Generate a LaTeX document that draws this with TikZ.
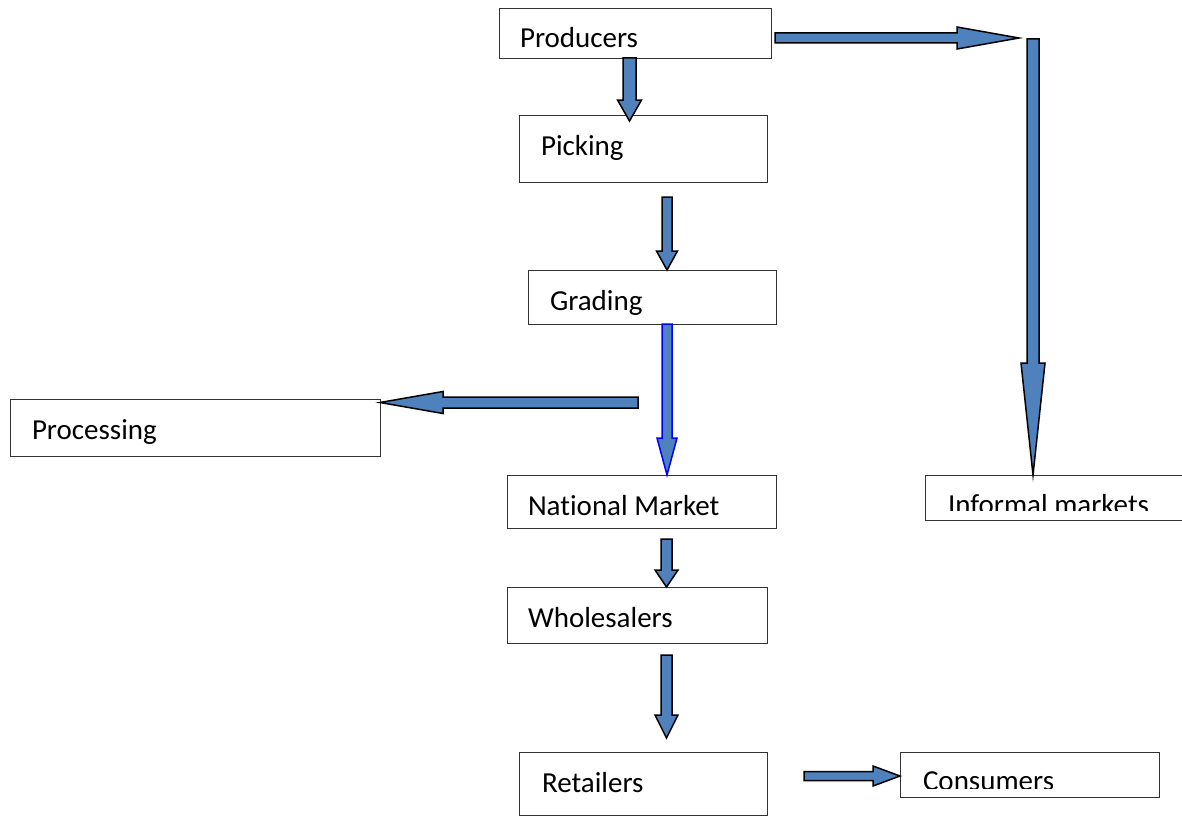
\documentclass[tikz,border=0pt]{standalone}
\usepackage{fontspec}
\setmainfont{Carlito}[Ligatures=NoCommon]
\usetikzlibrary{calc}

\definecolor{arrowfill}{HTML}{4F81BD}
\definecolor{boxline}{HTML}{333333}

% label of a box, set from the box's top-left corner
\newcommand{\boxlabel}[4]{%
  \node[lbl] (#1-text) at ([xshift=#2pt,yshift=-#3pt]#1.north west) {#4};}
% same, with the text frame cut off #4pt above the box's bottom edge
\newcommand{\boxlabelcut}[5]{%
  \begin{scope}
    \clip (#1.north west) rectangle ([yshift=#4pt]#1.south east);
    \node[lbl] (#1-text) at ([xshift=#2pt,yshift=-#3pt]#1.north west) {#5};
  \end{scope}}

% vertical block arrow: [style]{tail}{tip}{shaft half width}{head half width}{head length}
\newcommand{\varrow}[6][]{%
  \draw[blockarrow,#1] ([xshift=-#4pt]#2) -- ([xshift=-#4pt,yshift=#6pt]#3)
    -- ([xshift=-#5pt,yshift=#6pt]#3) -- (#3) -- ([xshift=#5pt,yshift=#6pt]#3)
    -- ([xshift=#4pt,yshift=#6pt]#3) -- ([xshift=#4pt]#2) -- cycle;}
% horizontal block arrow: head length is signed (negative for arrows pointing right)
\newcommand{\harrow}[6][]{%
  \draw[blockarrow,#1] ([yshift=#4pt]#2) -- ([xshift=#6pt,yshift=#4pt]#3)
    -- ([xshift=#6pt,yshift=#5pt]#3) -- (#3) -- ([xshift=#6pt,yshift=-#5pt]#3)
    -- ([xshift=#6pt,yshift=-#4pt]#3) -- ([yshift=-#4pt]#2) -- cycle;}

\tikzset{
  box/.style={draw=boxline, line width=0.9pt, inner sep=0pt, outer sep=0pt, anchor=north west},
  lbl/.style={inner sep=0pt, outer sep=0pt, anchor=base west, font=\fontsize{29}{34}\selectfont},
  blockarrow/.style={fill=arrowfill, draw=black, line width=1.5pt, line join=miter},
  bluerim/.style={draw=blue},
}

\begin{document}
\begin{tikzpicture}[x=1pt,y=-1pt]
\useasboundingbox (0,0) rectangle (1182,816);
\fill[white] (0,0) rectangle (1182,816);

% stages of the chain
\node[box, minimum width=272, minimum height=50] (prod)  at (499,8)   {};
\node[box, minimum width=248, minimum height=67] (pick)  at (519,115) {};
\node[box, minimum width=248, minimum height=54] (grad)  at (528,270) {};
\node[box, minimum width=370, minimum height=57] (proc)  at (10,399)  {};
\node[box, minimum width=269, minimum height=53] (nat)   at (507,475) {};
\node[box, minimum width=270, minimum height=45] (inf)   at (925,475) {};
\node[box, minimum width=260, minimum height=56] (whole) at (507,587) {};
\node[box, minimum width=248, minimum height=63] (ret)   at (519,752) {};
\node[box, minimum width=259, minimum height=45] (cons)  at (900,752) {};

\boxlabel{prod}{21}{40}{Producers}
\boxlabel{pick}{22}{40}{Picking}
\boxlabel{grad}{22}{40}{Grading}
\boxlabel{proc}{22}{40}{Processing}
\boxlabel{nat}{21}{40}{National Market}
\boxlabelcut{inf}{23}{39}{10}{Informal markets}
\boxlabel{whole}{21}{40}{Wholesalers}
\boxlabel{ret}{23}{40}{Retailers}
\boxlabelcut{cons}{23}{38}{9}{Consumers}

% arrow end points
\coordinate (a1) at (629.5,0 |- prod.south);
\coordinate (b1) at (629.5,121);
\coordinate (a2) at (775,38);
\coordinate (b2) at (1019,38);
\coordinate (a3) at (1033,39);
\coordinate (b3) at (1033,0 |- inf.north);
\coordinate (a4) at (667,197);
\coordinate (b4) at (667,0 |- grad.north);
\coordinate (a5) at (667,0 |- grad.south);
\coordinate (b5) at (667,0 |- nat.north);
\coordinate (a6) at (638,402.5);
\coordinate (b6) at (proc.north east |- a6);
\coordinate (a7) at (666.5,539);
\coordinate (b7) at (666.5,0 |- whole.north);
\coordinate (a8) at (666.5,655);
\coordinate (b8) at (666.5,738);
\coordinate (a9) at (804,776);
\coordinate (b9) at (cons.west |- a9);

% flows
\varrow{a1}{b1}{6.5}{12}{21}
\harrow{a2}{b2}{5}{11}{-62}
\varrow{a3}{b3}{6}{12}{112}
\varrow{a4}{b4}{5}{10.5}{19}
\varrow[bluerim]{a5}{b5}{5}{10}{37}
\harrow{a6}{b6}{5.5}{11}{63}
\varrow{a7}{b7}{5.5}{11.5}{17}
\varrow{a8}{b8}{5.5}{11.5}{23}
\harrow{a9}{b9}{4.5}{10}{-27}
\end{tikzpicture}
\end{document}
